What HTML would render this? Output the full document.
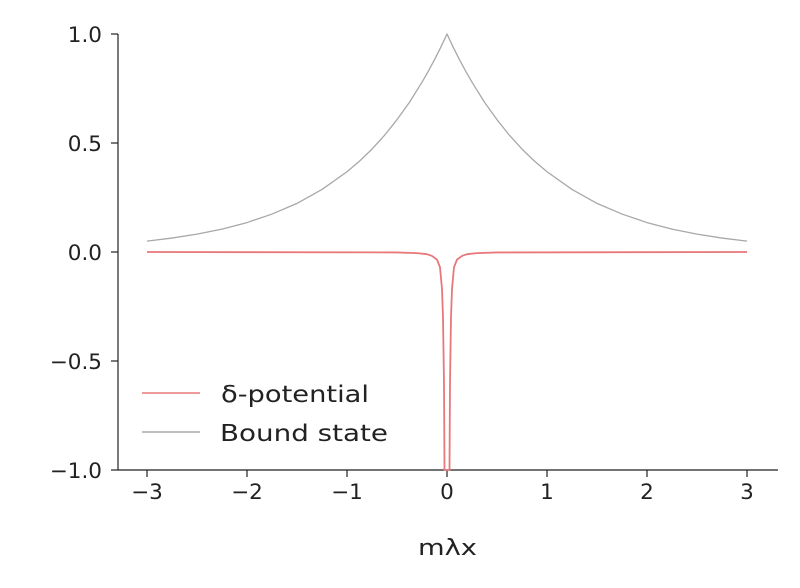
<!DOCTYPE html>
<html><head><meta charset="utf-8"><style>
body{margin:0;background:#fff}
svg text{font-family:"DejaVu Sans","Liberation Sans",sans-serif;font-size:21.5px;fill:#222}
</style></head><body>
<svg id="chart" width="800" height="583" viewBox="0 0 800 583" xmlns="http://www.w3.org/2000/svg">
<g id="axes"></g>
<g id="series"></g>
<g id="legend">
<line x1="142" y1="393" x2="200" y2="393" stroke="#e8787a" stroke-width="1.6"/>
<text x="221" y="402" style="font-size:23px" textLength="148" lengthAdjust="spacingAndGlyphs">δ-potential</text>
<line x1="142" y1="432" x2="200" y2="432" stroke="#a8a8a8" stroke-width="1.5"/>
<text x="220" y="441" style="font-size:23px" textLength="168" lengthAdjust="spacingAndGlyphs">Bound state</text>
</g>
<text x="418" y="555" style="font-size:22px" textLength="59" lengthAdjust="spacingAndGlyphs">mλx</text>
</svg>
<script>
const xTicks=[-3,-2,-1,0,1,2,3];
const xTickLabels=["−3","−2","−1","0","1","2","3"];
const yTicks=[1,0.5,0,-0.5,-1];
const yTickLabels=["1.0","0.5","0.0","−0.5","−1.0"];
const boundX=[-3,-2.75,-2.5,-2.25,-2,-1.75,-1.5,-1.25,-1,-0.875,-0.75,-0.625,-0.5,-0.375,-0.25,-0.1875,-0.125,-0.0625,0,0.0625,0.125,0.1875,0.25,0.375,0.5,0.625,0.75,0.875,1,1.25,1.5,1.75,2,2.25,2.5,2.75,3];
const boundY=[0.050,0.064,0.082,0.105,0.135,0.174,0.223,0.287,0.368,0.417,0.472,0.535,0.607,0.687,0.779,0.829,0.882,0.939,1,0.939,0.882,0.829,0.779,0.687,0.607,0.535,0.472,0.417,0.368,0.287,0.223,0.174,0.135,0.105,0.082,0.064,0.050];
const deltaX=[-3,-0.5,-0.3,-0.2,-0.15,-0.1,-0.07,-0.05,-0.04,-0.03,-0.025,0,0.025,0.03,0.04,0.05,0.07,0.1,0.15,0.2,0.3,0.5,3];
const deltaY=[0,-0.002,-0.005,-0.01,-0.018,-0.035,-0.07,-0.17,-0.3,-0.6,-1,-1,-1,-0.6,-0.3,-0.17,-0.07,-0.035,-0.018,-0.01,-0.005,-0.002,0];
const sx=v=>447+v*100;
const sy=v=>252-v*218;
const NS="http://www.w3.org/2000/svg";
const axes=document.getElementById('axes'),series=document.getElementById('series');
function mk(tag,attrs,parent){const e=document.createElementNS(NS,tag);for(const k in attrs)e.setAttribute(k,attrs[k]);parent.appendChild(e);return e;}
let e=mk('line',{x1:118,y1:sy(1),x2:118,y2:470,stroke:'#222','stroke-width':1.2},axes);


e=mk('line',{x1:118,y1:470,x2:778,y2:470,stroke:'#222','stroke-width':1.2},axes);


xTicks.forEach((t,i)=>{
 let l=mk('line',{x1:sx(t),y1:470,x2:sx(t),y2:477,stroke:'#222','stroke-width':1.2},axes);
 
 
 let tx=mk('text',{x:sx(t),y:499,'text-anchor':'middle'},axes);tx.textContent=xTickLabels[i];
 
 
});
yTicks.forEach((t,i)=>{
 let l=mk('line',{x1:111,y1:sy(t),x2:118,y2:sy(t),stroke:'#222','stroke-width':1.2},axes);
 
 
 let tx=mk('text',{x:102,y:sy(t)+8,'text-anchor':'end'},axes);tx.textContent=yTickLabels[i];
 
 
});
let p=mk('polyline',{points:boundX.map((x,i)=>sx(x)+','+sy(boundY[i])).join(' '),fill:'none',stroke:'#a8a8a8','stroke-width':1.3,'stroke-linejoin':'round'},series);


p=mk('polyline',{points:deltaX.map((x,i)=>sx(x)+','+sy(deltaY[i])).join(' '),fill:'none',stroke:'#e8787a','stroke-width':1.8,'stroke-linejoin':'round'},series);


</script>
</body></html>
